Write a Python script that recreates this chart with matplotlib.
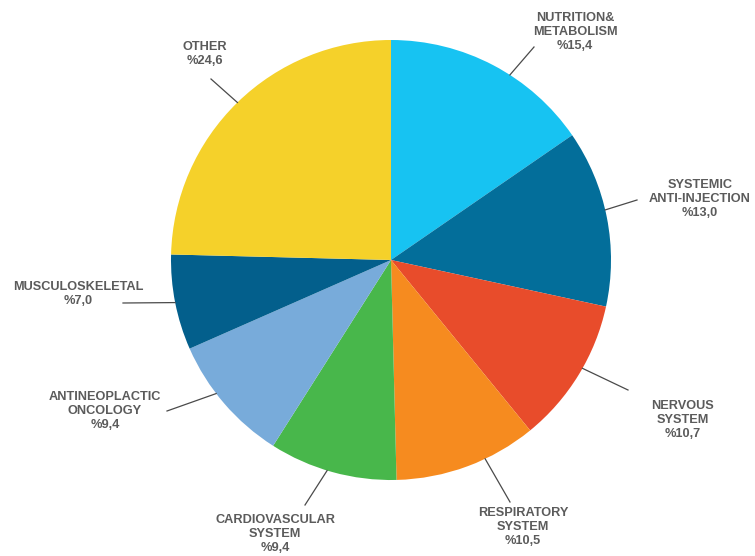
import matplotlib.pyplot as plt
import numpy as np

labels = ["NUTRITION&\nMETABOLISM", "SYSTEMIC\nANTI-INJECTION", "NERVOUS\nSYSTEM",
          "RESPIRATORY\nSYSTEM", "CARDIOVASCULAR\nSYSTEM", "ANTINEOPLACTIC\nONCOLOGY",
          "MUSCULOSKELETAL", "OTHER"]
shares = [15.4, 13.0, 10.7, 10.5, 9.4, 9.4, 7.0, 24.6]
colors = ["#17c3f2", "#036e9a", "#e84c2b", "#f68b1f", "#48b74b", "#78abda", "#035f8c", "#f5d12a"]

# label text position and leader line outer end, in pixels of the 755x556 canvas
text_px = [(575, 32), (700, 199), (683, 420), (523, 527), (275, 534), (105, 411), (78, 294), (205, 54)]
line_px = [(534, 47), (637, 200), (628, 390), (510, 502), (305, 505), (167, 411), (123, 303), (211, 79)]
# small shift (deg) of where each leader touches the rim, relative to the wedge middle
nudge = [-5, 2, 2, 5, -1.4, -3.3, 0, 0]

cx, cy, R = 391, 260, 220


def to_data(p):
    return (p[0] - cx) / R, (cy - p[1]) / R


fig = plt.figure(figsize=(7.55, 5.56), dpi=100)
ax = fig.add_axes([0, 0, 1, 1])

wedges, _ = ax.pie(shares, colors=colors, startangle=90, counterclock=False,
                   radius=1, center=(0, 0), frame=True,
                   wedgeprops=dict(linewidth=0))
ax.set_xlim(-cx / R, (755 - cx) / R)
ax.set_ylim(-(556 - cy) / R, cy / R)
ax.set_aspect("equal")
ax.axis("off")

for w, lab, val, tp, lp, dn in zip(wedges, labels, shares, text_px, line_px, nudge):
    mid = np.deg2rad((w.theta1 + w.theta2) / 2 + dn)
    ex, ey = np.cos(mid), np.sin(mid)
    ox, oy = to_data(lp)
    ax.plot([ox, ex], [oy, ey], color="#4a4a4a", lw=0.9, zorder=5)
    tx, ty = to_data(tp)
    txt = lab + "\n%" + f"{val:.1f}".replace(".", ",")
    ax.text(tx, ty, txt, ha="center", va="center", fontsize=9.2,
            family="Liberation Sans", weight="bold", color="#5b5b5b",
            linespacing=1.2)

fig.savefig("out.png", dpi=100)
